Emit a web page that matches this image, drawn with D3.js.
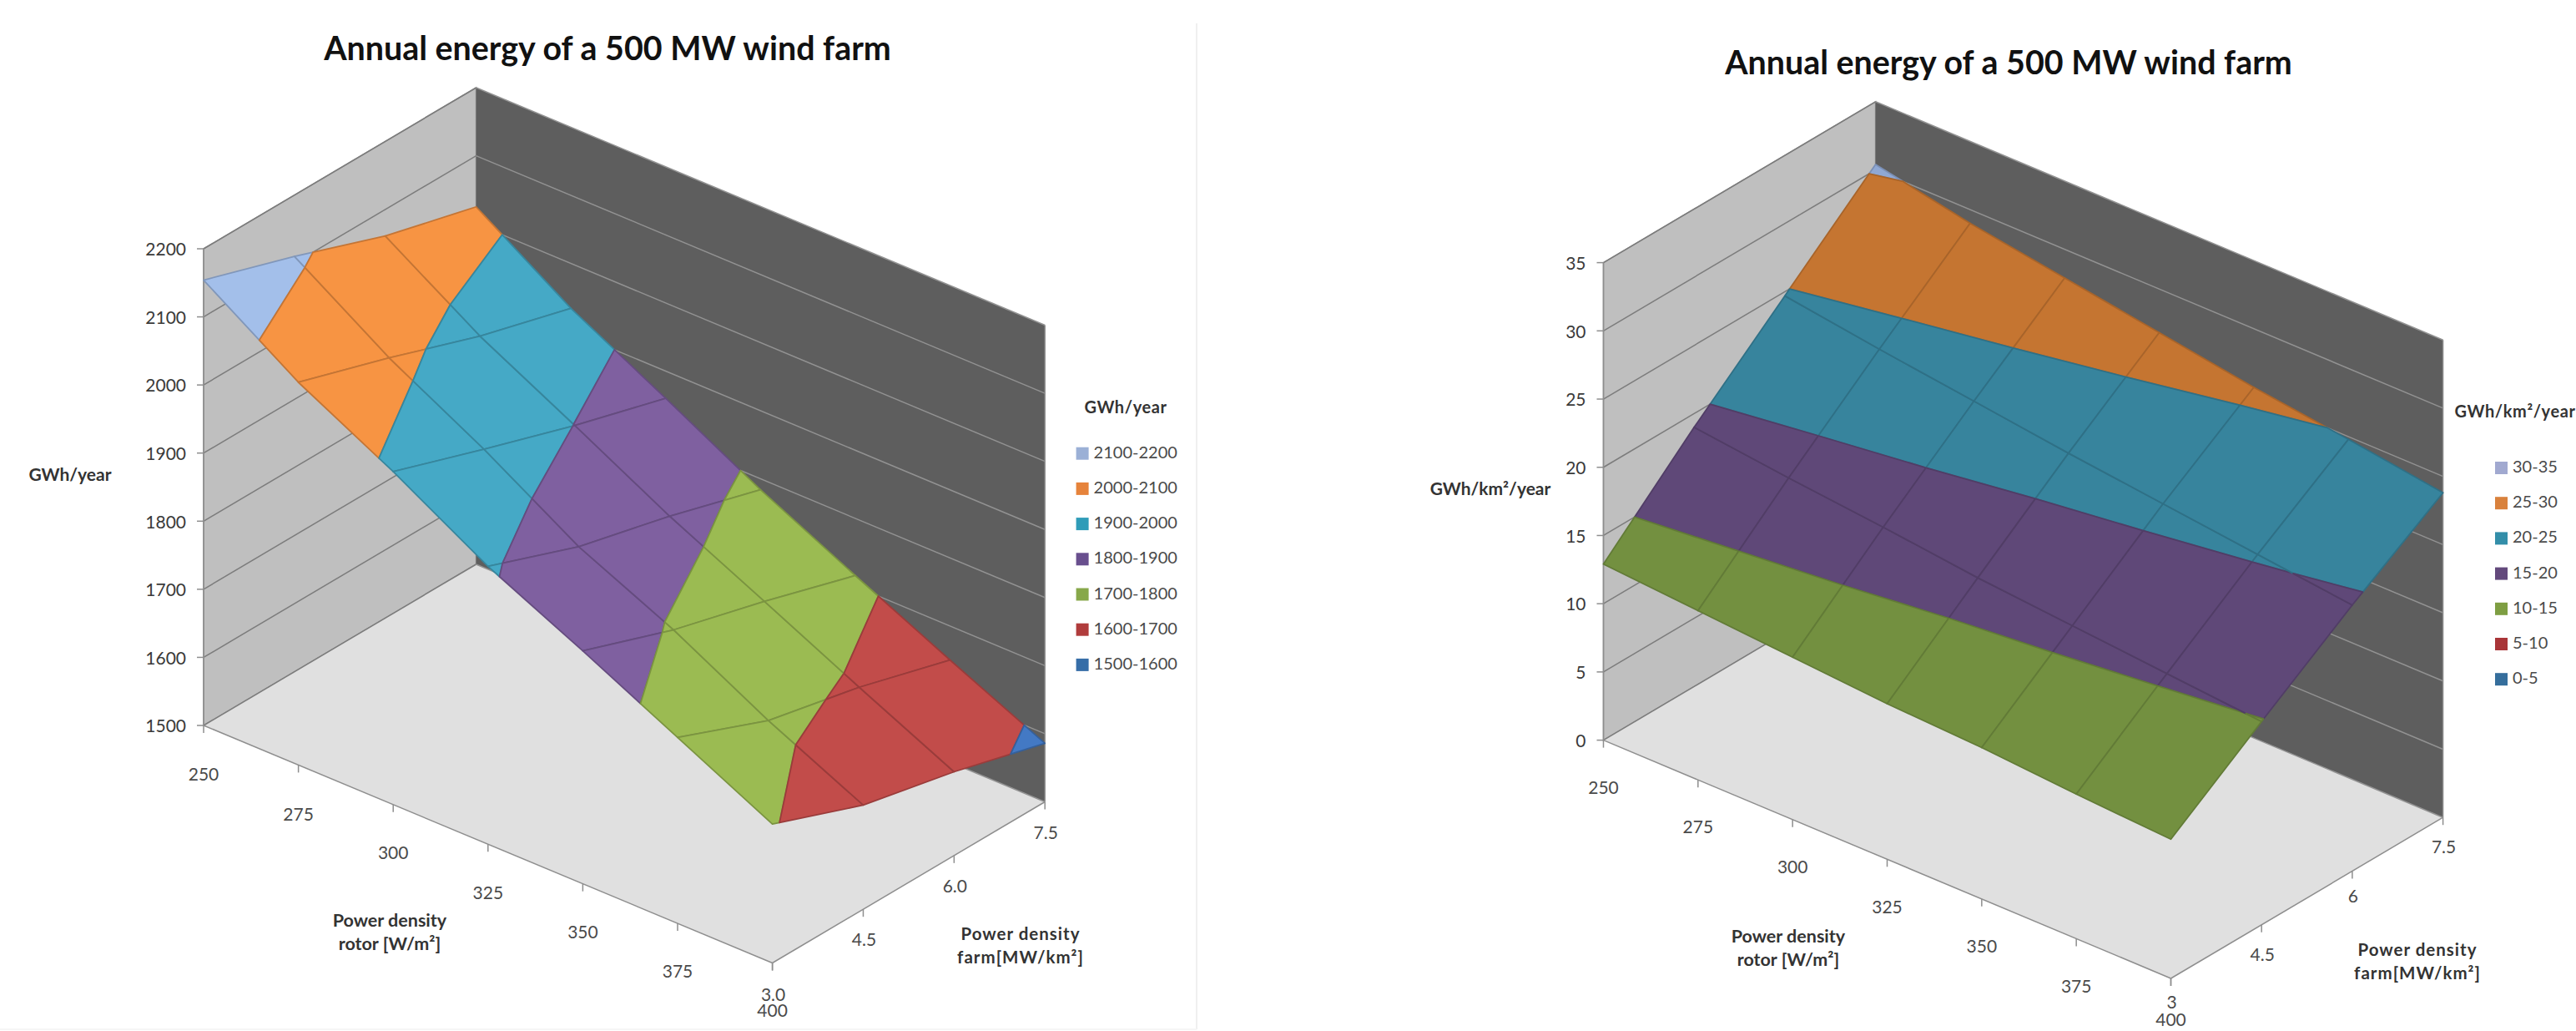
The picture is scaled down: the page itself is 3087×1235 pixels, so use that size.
<!DOCTYPE html>
<html>
<head>
<meta charset="utf-8">
<title>Annual energy of a 500 MW wind farm</title>
<script src="https://cdn.jsdelivr.net/npm/d3@7"></script>
<style>
  html, body { margin: 0; padding: 0; background: #fff; overflow: hidden; }
  svg { display: block; font-family: Lato, "Open Sans", sans-serif; }
</style>
</head>
<body>
<svg id="figure" width="3087" height="1235"></svg>
<script>
// Grid axes shared by both surfaces
const rotorDensity = [250, 275, 300, 325, 350, 375, 400];
const farmDensity = [3, 4.5, 6, 7.5];

// Annual energy per farm, GWh/year: one row per farm density, one column per rotor density
const energyFarm30 = [2154, 2062, 1989, 1908, 1842, 1773, 1704];
const energyFarm45 = [2110, 2019, 1943, 1858, 1794, 1719, 1653];
const energyFarm60 = [2061, 1972, 1899, 1824, 1757, 1689, 1623];
const energyFarm75 = [2025, 1934, 1860, 1784, 1716, 1650, 1586];

// Annual energy per area, GWh/km2/year
const arealFarm30 = [12.9, 12.4, 11.9, 11.4, 11.1, 10.6, 10.2];
const arealFarm45 = [19.0, 18.2, 17.5, 16.7, 16.1, 15.5, 14.9];
const arealFarm60 = [24.7, 23.7, 22.8, 21.9, 21.1, 20.3, 19.5];
const arealFarm75 = [30.4, 29.0, 27.9, 26.8, 25.7, 24.8, 23.8];

// Tick labels and contour bands
const energyTicks = [1500, 1600, 1700, 1800, 1900, 2000, 2100, 2200];
const arealTicks = [0, 5, 10, 15, 20, 25, 30, 35];
const farmLabelsEnergy = ["3.0", "4.5", "6.0", "7.5"];
const farmLabelsAreal = ["3", "4.5", "6", "7.5"];
const energyBands = [[2100, 2200], [2000, 2100], [1900, 2000], [1800, 1900], [1700, 1800], [1600, 1700], [1500, 1600]];
const arealBands = [[30, 35], [25, 30], [20, 25], [15, 20], [10, 15], [5, 10], [0, 5]];

// Surface fills and legend swatches, highest band first
const energyFills = ["#a3bfea", "#f79443", "#45a9c6", "#7f60a0", "#9bbb52", "#c24c4a", "#4379c4"];
const energySwatches = ["#9bb0d6", "#e6833b", "#2f9cb8", "#694f8e", "#87a84a", "#b03c3c", "#366ea8"];
const arealFills = ["#8fa8d4", "#c57531", "#37849d", "#5f4878", "#739040", "#a93538", "#356e9c"];
const arealSwatches = ["#a1a9d0", "#d9813c", "#338ea9", "#63497c", "#7e9e42", "#a93538", "#356e9c"];

const svg = d3.select("#figure");

// Oblique projection: rotor and farm density each move a point across the floor, the value lifts it
function makeProjection(frame, values) {
  const rx = d3.scaleLinear().domain(d3.extent(rotorDensity)).range([0, frame.front[0] - frame.left[0]]);
  const ry = d3.scaleLinear().domain(d3.extent(rotorDensity)).range([0, frame.front[1] - frame.left[1]]);
  const fx = d3.scaleLinear().domain(d3.extent(farmDensity)).range([0, frame.back[0] - frame.left[0]]);
  const fy = d3.scaleLinear().domain(d3.extent(farmDensity)).range([0, frame.back[1] - frame.left[1]]);
  const vy = d3.scaleLinear().domain(d3.extent(values)).range([0, -frame.height]);
  return (r, f, v) => [
    frame.left[0] + rx(r) + fx(f),
    frame.left[1] + ry(r) + fy(f) + vy(v)
  ];
}

// Keep the part of a polygon on one side of a value level
function clipByLevel(poly, level, keepAbove) {
  const inside = p => keepAbove ? p.v >= level : p.v <= level;
  const out = [];
  poly.forEach((a, i) => {
    const b = poly[(i + 1) % poly.length];
    if (inside(a)) out.push(a);
    if (inside(a) !== inside(b)) {
      const t = (level - a.v) / (b.v - a.v);
      out.push({ r: a.r + t * (b.r - a.r), f: a.f + t * (b.f - a.f), v: level });
    }
  });
  return out;
}

function drawChart(cfg) {
  const g = svg.append("g");
  const project = makeProjection(cfg.frame, cfg.ticks);
  const rMin = rotorDensity[0], rMax = rotorDensity[rotorDensity.length - 1];
  const fMin = farmDensity[0], fMax = farmDensity[farmDensity.length - 1];
  const vMin = cfg.ticks[0], vMax = cfg.ticks[cfg.ticks.length - 1];
  const line = d3.line();
  const outline = pts => line(pts) + "Z";

  // Walls and floor
  g.append("path").attr("fill", "#bfbfbf").attr("stroke", "#8e8e8e").attr("stroke-width", 1.5)
    .attr("d", outline([project(rMin, fMin, vMin), project(rMin, fMax, vMin), project(rMin, fMax, vMax), project(rMin, fMin, vMax)]));
  g.append("path").attr("fill", "#5e5e5e")
    .attr("d", outline([project(rMin, fMax, vMin), project(rMax, fMax, vMin), project(rMax, fMax, vMax), project(rMin, fMax, vMax)]));
  g.append("path").attr("fill", "#e0e0e0")
    .attr("d", outline([project(rMin, fMin, vMin), project(rMax, fMin, vMin), project(rMax, fMax, vMin), project(rMin, fMax, vMin)]));

  // Wall gridlines at each value tick
  cfg.ticks.forEach(t => {
    g.append("path").attr("fill", "none").attr("stroke", "#7c7c7c").attr("stroke-width", 1.5)
      .attr("d", line([project(rMin, fMin, t), project(rMin, fMax, t)]));
    g.append("path").attr("fill", "none").attr("stroke", "#929292").attr("stroke-width", 1.5)
      .attr("d", line([project(rMin, fMax, t), project(rMax, fMax, t)]));
  });

  // Axis lines and tick marks along the floor edges
  const axisColor = "#8e8e8e";
  const edge = pts => g.append("path").attr("fill", "none").attr("stroke", axisColor).attr("stroke-width", 1.5).attr("d", line(pts));
  edge([project(rMin, fMin, vMin), project(rMax, fMin, vMin)]);
  edge([project(rMax, fMin, vMin), project(rMax, fMax, vMin)]);
  edge([project(rMin, fMin, vMin), project(rMin, fMin, vMax)]);
  edge([project(rMax, fMax, vMin), project(rMax, fMax, vMax)]);

  cfg.ticks.forEach(t => {
    const [x, y] = project(rMin, fMin, t);
    edge([[x - 8, y], [x, y]]);
    g.append("text").attr("x", x - 21).attr("y", y + 3).attr("text-anchor", "end")
      .attr("dominant-baseline", "middle").attr("font-size", 21).attr("fill", "#3a3a3a").text(t);
  });
  rotorDensity.forEach((r, i) => {
    const [x, y] = project(r, fMin, vMin);
    edge([[x, y], [x, y + 9]]);
    g.append("text").attr("x", x).attr("y", y + cfg.rotorLabelDrops[i]).attr("text-anchor", "middle")
      .attr("dominant-baseline", "middle").attr("font-size", 21).attr("fill", "#4a4a4a").text(r);
  });
  farmDensity.forEach((f, i) => {
    const [x, y] = project(rMax, f, vMin);
    edge([[x, y], [x, y + 9]]);
    g.append("text").attr("x", x + 1).attr("y", y + cfg.farmLabelDrops[i]).attr("text-anchor", "middle")
      .attr("dominant-baseline", "middle").attr("font-size", 21).attr("fill", "#4a4a4a").text(cfg.farmLabels[i]);
  });

  // Surface: every grid cell is cut into its contour bands
  const cells = [];
  for (let fi = 0; fi < farmDensity.length - 1; fi++) {
    for (let ri = 0; ri < rotorDensity.length - 1; ri++) {
      cells.push([
        { r: rotorDensity[ri], f: farmDensity[fi], v: cfg.surface[fi][ri] },
        { r: rotorDensity[ri + 1], f: farmDensity[fi], v: cfg.surface[fi][ri + 1] },
        { r: rotorDensity[ri + 1], f: farmDensity[fi + 1], v: cfg.surface[fi + 1][ri + 1] },
        { r: rotorDensity[ri], f: farmDensity[fi + 1], v: cfg.surface[fi + 1][ri] }
      ]);
    }
  }
  const pieces = [];
  cells.forEach(cell => {
    cfg.bands.forEach((band, b) => {
      let poly = clipByLevel(cell, band[0], true);
      if (poly.length) poly = clipByLevel(poly, band[1], false);
      if (poly.length > 2) pieces.push({ poly, b });
    });
  });
  g.append("g").selectAll("path").data(pieces).join("path")
    .attr("d", d => outline(d.poly.map(p => project(p.r, p.f, p.v))))
    .attr("fill", d => cfg.fills[d.b])
    .attr("stroke", d => d3.color(cfg.fills[d.b]).darker(cfg.lineDarken).formatHex())
    .attr("stroke-width", 1.8)
    .attr("stroke-linejoin", "round");

  // Titles
  const text = (x, y, str, size, weight, fill, spacing) => g.append("text")
    .attr("x", x).attr("y", y).attr("text-anchor", "middle").attr("dominant-baseline", "middle")
    .attr("font-size", size).attr("font-weight", weight).attr("fill", fill)
    .attr("letter-spacing", spacing || 0).text(str);

  g.append("text").attr("x", cfg.title.x).attr("y", cfg.title.y).attr("text-anchor", "middle")
    .attr("font-size", 39.4).attr("font-weight", 700).attr("fill", "#111").text("Annual energy of a 500 MW wind farm");
  text(cfg.valueTitle.x, cfg.valueTitle.y, cfg.unit, 21, 700, "#333");
  text(cfg.rotorTitle.x, cfg.rotorTitle.y, "Power density", 21.5, 700, "#333");
  text(cfg.rotorTitle.x, cfg.rotorTitle.y + 28, "rotor [W/m\u00b2]", 21.5, 700, "#333");
  text(cfg.farmTitle.x, cfg.farmTitle.y, "Power density", 20.5, 700, "#333", 1);
  text(cfg.farmTitle.x, cfg.farmTitle.y + 28, "farm[MW/km\u00b2]", 20.5, 700, "#333", 1);

  // Legend
  text(cfg.legend.titleX, cfg.legend.titleY, cfg.unit, 20, 700, "#333", 0.6);
  const rows = g.append("g").selectAll("g").data(cfg.bands).join("g")
    .attr("transform", (d, i) => `translate(${cfg.legend.x},${cfg.legend.y + i * 42.2})`);
  rows.append("rect").attr("x", 0).attr("y", -7).attr("width", 15).attr("height", 15)
    .attr("fill", (d, i) => cfg.swatches[i]);
  rows.append("text").attr("x", 21).attr("y", 1).attr("dominant-baseline", "middle")
    .attr("font-size", 20).attr("fill", "#4a4a4a").text(d => `${d[0]}-${d[1]}`);
}

drawChart({
  frame: { left: [244, 869], front: [925.6, 1153.5], back: [570.6, 676], height: 571 },
  ticks: energyTicks,
  surface: [energyFarm30, energyFarm45, energyFarm60, energyFarm75],
  bands: energyBands,
  fills: energyFills,
  swatches: energySwatches,
  farmLabels: farmLabelsEnergy,
  lineDarken: 0.65,
  rotorLabelDrops: [61, 61, 60, 60, 60, 60, 59],
  farmLabelDrops: [40, 39, 39, 39],
  unit: "GWh/year",
  title: { x: 728, y: 72 },
  valueTitle: { x: 84, y: 571 },
  rotorTitle: { x: 467, y: 1104 },
  farmTitle: { x: 1223, y: 1121 },
  legend: { titleX: 1349, titleY: 490, x: 1289.6, y: 542.7 }
});

drawChart({
  frame: { left: [1921.5, 886.6], front: [2601.5, 1172], back: [2247.6, 693.8], height: 572 },
  ticks: arealTicks,
  surface: [arealFarm30, arealFarm45, arealFarm60, arealFarm75],
  bands: arealBands,
  fills: arealFills,
  swatches: arealSwatches,
  farmLabels: farmLabelsAreal,
  lineDarken: 0.45,
  rotorLabelDrops: [59, 59, 59, 59, 59, 59, 52],
  farmLabelDrops: [31, 38, 32, 37],
  unit: "GWh/km\u00b2/year",
  title: { x: 2407, y: 89 },
  valueTitle: { x: 1786, y: 588 },
  rotorTitle: { x: 2143, y: 1123 },
  farmTitle: { x: 2897, y: 1140 },
  legend: { titleX: 3014, titleY: 495, x: 2990, y: 560 }
});

// Faint rule that closes the left panel
svg.append("path").attr("fill", "none").attr("stroke", "#f0f0f0").attr("stroke-width", 2)
  .attr("d", d3.line()([[1434, 28], [1434, 1233]]));
svg.append("path").attr("fill", "none").attr("stroke", "#f6f6f6").attr("stroke-width", 2)
  .attr("d", d3.line()([[0, 1233], [1434, 1233]]));
</script>
</body>
</html>
